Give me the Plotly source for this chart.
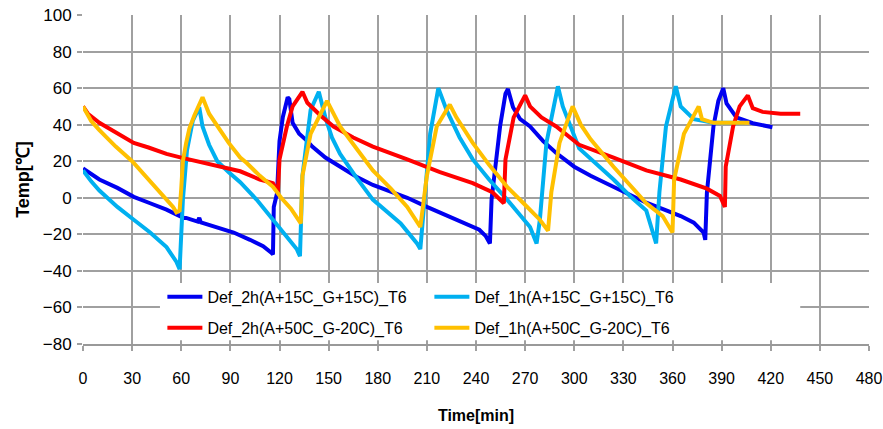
import plotly.graph_objects as go

# ---- data ----
t_2h_15 = [0, 5, 10, 21, 31, 41, 51, 59, 60, 61, 63, 70, 71, 72, 82, 92, 102, 110, 115, 116,
           116.5, 118.5, 120, 122, 125, 126, 128, 132, 137, 140, 148, 157, 167, 177, 188, 198, 210, 228, 242, 246,
           248.5, 249.5, 251.6, 254.7, 258, 259.5, 262.6, 267, 273, 281, 289, 300, 310, 324, 334, 344, 355, 365,
           373, 379, 380, 381, 385, 388, 391, 393, 399, 409, 421]
T_2h_15 = [16, 13, 10, 5.4, 0.5, -3, -6.5, -10, -9, -11, -11, -13, -11, -13.5, -16, -19, -23, -26.5, -30, -31,
           -5, 2.5, 31, 44, 55, 54, 41, 35, 31, 28, 22, 17, 11.5, 7, 3.5, 0, -5, -12, -17.5, -21,
           -25, -1, 17, 39, 57, 59.5, 49.5, 43, 39, 31, 24.5, 17, 12, 6, 1.5, -2.7, -6.5, -10,
           -13.6, -19, -23, 2.7, 39, 53, 60, 51.6, 44, 40.8, 38.6]

t_1h_15 = [0, 5, 10, 21, 31, 41, 51, 57, 59, 60, 61, 63.5, 67, 71, 73, 77, 82, 89, 96, 106, 116, 126, 130.5, 132.5,
           134, 139, 144, 148, 152, 157, 167, 177, 186, 194, 204, 206, 208, 212, 217, 222, 230, 238, 248, 259, 273, 277,
           279, 283, 290, 293, 303, 314, 324, 334, 344, 350, 352, 356, 362, 365, 373, 385, 399, 404]
T_1h_15 = [15, 9, 4, -5, -12, -19, -27, -35, -39, -19, -1, 26, 42, 49.5, 39, 29, 20, 14, 8.5, -1, -12, -23, -28, -32,
           12, 48, 58, 44, 33, 24, 11, -1, -8, -14, -25, -28, -7, 35, 60, 48, 33, 21, 10, -1, -16, -25,
           -12, 30, 61, 50, 27, 18, 10, 1, -7, -25, 3, 39, 61, 50, 43, 41, 41, 41]

t_2h_50 = [0, 3, 10, 20, 31, 40, 51, 60, 69, 80, 96, 108, 116, 119, 120, 124.5, 128, 134,
           137, 145, 153, 165, 177, 198, 218, 238, 250, 257, 258, 263, 270, 273, 280, 289, 303, 324, 344, 365,
           381, 389, 392, 392.5, 397, 401, 406, 409, 415, 426, 438]
T_2h_50 = [50, 46, 41, 36, 30, 27.5, 24, 22, 20, 17.5, 14.5, 10, 8, 3, 21, 39, 50, 58,
           52, 45, 39, 33, 28, 21, 14, 8, 3, -3, 21, 44, 56, 50, 44, 39, 29, 22, 15, 10,
           5, 1, -5, 17, 39, 50, 56, 49, 47, 46, 46]

t_1h_50 = [0, 5, 10, 20, 30, 40, 50, 55, 57, 59, 60, 61, 63, 65, 68, 71, 73, 77, 82, 89, 96, 100, 108, 116, 121,
           127, 133, 134, 139, 149, 153, 157, 167, 177, 188, 198, 206, 210, 216, 224, 228, 238, 248, 259, 269, 279, 284,
           286, 291, 299, 304, 310, 324, 334, 344, 354, 360, 361, 367, 376, 378, 385, 407]
T_1h_50 = [50, 42, 37, 28, 20, 10, 0, -5, -8, -7, 5, 20, 30, 38, 45, 51, 55, 46, 39, 30, 22, 19, 12, 6, 0,
           -6, -14, 12, 35, 53, 46, 39, 27, 15, 5, -5, -16, 12, 39, 51, 44, 30, 18, 6, -3, -12, -18,
           3, 30, 50, 40, 32, 17, 7, -3, -10, -19, 10, 35, 50, 43, 41, 41]

names = ["Def_2h(A+15C_G+15C)_T6", "Def_1h(A+15C_G+15C)_T6",
         "Def_2h(A+50C_G-20C)_T6", "Def_1h(A+50C_G-20C)_T6"]
colors = ["#0000F0", "#00B0F0", "#FF0000", "#FFC000"]
legends = ["legend", "legend", "legend2", "legend2"]
series = [(t_2h_15, T_2h_15), (t_1h_15, T_1h_15), (t_2h_50, T_2h_50), (t_1h_50, T_1h_50)]

x_ticks = list(range(0, 481, 30))
y_ticks = list(range(-80, 101, 20))

fig = go.Figure()
for (tx, ty), nm, c, lg in zip(series, names, colors, legends):
    fig.add_trace(go.Scatter(x=tx, y=ty, mode="lines", name=nm, legend=lg,
                             line=dict(color=c, width=4)))

# invisible trace on overlay axis for inside tick marks
fig.add_trace(go.Scatter(x=[0, 480], y=[-80, -80], xaxis="x2", mode="lines",
                         line=dict(width=0), showlegend=False, hoverinfo="skip"))

grid = "#A0A0A0"
font = "Liberation Sans"
leg_common = dict(orientation="h", xanchor="left", yanchor="middle", bgcolor="rgba(0,0,0,0)",
                  borderwidth=0, entrywidth=217, entrywidthmode="pixels", itemwidth=35,
                  font=dict(size=16, family=font), traceorder="normal")
fig.update_layout(
    width=883, height=429,
    margin=dict(l=83, r=14, t=15, b=85),
    paper_bgcolor="white", plot_bgcolor="white",
    font=dict(family=font, color="black", size=16),
    xaxis=dict(range=[0, 480], tickvals=x_ticks, showgrid=True, gridcolor=grid, gridwidth=1.5,
               zeroline=False, showline=True, linecolor="#999999", linewidth=2,
               ticks="outside", ticklen=5, tickcolor=grid, tickwidth=1.5, automargin=False,
               ticklabelstandoff=14, tickfont=dict(size=16, family=font),
               title=dict(text="<b>Time[min]</b>", font=dict(size=16, family=font), standoff=24)),
    xaxis2=dict(range=[0, 480], overlaying="x", tickvals=x_ticks, showgrid=False, zeroline=False,
                showticklabels=False, ticks="inside", ticklen=5, tickcolor=grid, tickwidth=1.5,
                anchor="y", side="bottom", automargin=False),
    yaxis=dict(range=[-80, 100], tickvals=y_ticks, showgrid=True, gridcolor=grid, gridwidth=1.5,
               zeroline=False, showline=False, ticks="outside", ticklen=5, tickcolor=grid,
               tickwidth=1.5, tickfont=dict(size=17, family=font), ticklabelstandoff=2,
               automargin=False,
               title=dict(text="<b>Temp[℃]</b>", font=dict(size=18, family=font), standoff=8)),
    legend=dict(x=0.101, y=0.143, **leg_common),
    legend2=dict(x=0.101, y=0.049, **leg_common),
    shapes=[dict(type="rect", xref="x", yref="y", x0=47, x1=438, y0=-77.9, y1=-46.6,
                 fillcolor="white", line=dict(width=0), layer="above")],
    showlegend=True,
)

fig.write_html("out.html", config={"displayModeBar": False},
               post_script="document.body.style.margin='0px';")
